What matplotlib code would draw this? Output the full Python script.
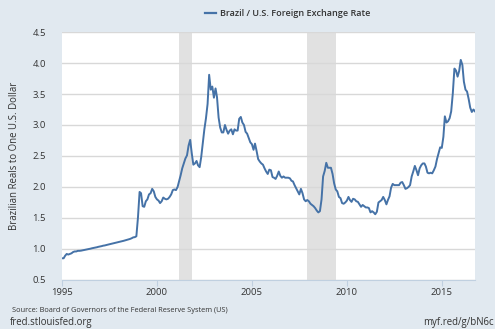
import matplotlib
matplotlib.use("Agg")
import matplotlib.pyplot as plt
import matplotlib.dates as mdates
import pandas as pd

# Brazilian reals per U.S. dollar, monthly, Jan 1995 - Oct 2016
rates_1995 = [0.85, 0.85, 0.89, 0.92, 0.91, 0.92, 0.93, 0.95, 0.96, 0.96, 0.97, 0.97]
rates_1996 = [0.973, 0.979, 0.985, 0.989, 0.994, 1.000, 1.005, 1.012, 1.017, 1.022, 1.028, 1.035]
rates_1997 = [1.040, 1.046, 1.053, 1.057, 1.064, 1.070, 1.076, 1.083, 1.088, 1.094, 1.101, 1.108]
rates_1998 = [1.113, 1.119, 1.126, 1.132, 1.139, 1.147, 1.153, 1.162, 1.173, 1.187, 1.191, 1.205]
rates_1999 = [1.51, 1.92, 1.90, 1.69, 1.68, 1.77, 1.80, 1.88, 1.90, 1.97, 1.93, 1.84]
rates_2000 = [1.80, 1.78, 1.74, 1.77, 1.83, 1.81, 1.80, 1.81, 1.84, 1.88, 1.95, 1.96]
rates_2001 = [1.95, 2.00, 2.09, 2.19, 2.30, 2.38, 2.46, 2.51, 2.67, 2.76, 2.54, 2.36]
rates_2002 = [2.38, 2.42, 2.35, 2.32, 2.48, 2.71, 2.93, 3.11, 3.34, 3.81, 3.57, 3.62]
rates_2003 = [3.44, 3.59, 3.45, 3.12, 2.96, 2.88, 2.88, 3.00, 2.92, 2.86, 2.91, 2.93]
rates_2004 = [2.85, 2.93, 2.91, 2.91, 3.10, 3.13, 3.04, 3.00, 2.89, 2.86, 2.79, 2.72]
rates_2005 = [2.69, 2.60, 2.70, 2.58, 2.45, 2.41, 2.38, 2.36, 2.30, 2.25, 2.21, 2.28]
rates_2006 = [2.27, 2.16, 2.15, 2.13, 2.18, 2.25, 2.18, 2.15, 2.17, 2.15, 2.15, 2.15]
rates_2007 = [2.14, 2.10, 2.09, 2.03, 1.98, 1.93, 1.88, 1.97, 1.90, 1.80, 1.77, 1.79]
rates_2008 = [1.77, 1.73, 1.71, 1.69, 1.66, 1.62, 1.59, 1.61, 1.80, 2.17, 2.26, 2.39]
rates_2009 = [2.31, 2.31, 2.31, 2.21, 2.06, 1.96, 1.93, 1.84, 1.82, 1.74, 1.73, 1.75]
rates_2010 = [1.78, 1.84, 1.79, 1.76, 1.81, 1.80, 1.77, 1.76, 1.72, 1.68, 1.71, 1.69]
rates_2011 = [1.67, 1.67, 1.66, 1.59, 1.61, 1.59, 1.56, 1.60, 1.75, 1.77, 1.79, 1.84]
rates_2012 = [1.79, 1.72, 1.79, 1.85, 1.99, 2.05, 2.03, 2.03, 2.03, 2.03, 2.07, 2.08]
rates_2013 = [2.03, 1.97, 1.98, 2.00, 2.03, 2.17, 2.25, 2.34, 2.27, 2.19, 2.30, 2.35]
rates_2014 = [2.38, 2.38, 2.33, 2.23, 2.22, 2.23, 2.22, 2.27, 2.33, 2.45, 2.55, 2.64]
rates_2015 = [2.63, 2.81, 3.14, 3.04, 3.06, 3.11, 3.22, 3.51, 3.91, 3.88, 3.78, 3.87]
rates_2016 = [4.05, 3.97, 3.70, 3.57, 3.54, 3.42, 3.28, 3.21, 3.25, 3.22]

rates = (rates_1995 + rates_1996 + rates_1997 + rates_1998 + rates_1999 + rates_2000
         + rates_2001 + rates_2002 + rates_2003 + rates_2004 + rates_2005 + rates_2006
         + rates_2007 + rates_2008 + rates_2009 + rates_2010 + rates_2011 + rates_2012
         + rates_2013 + rates_2014 + rates_2015 + rates_2016)
dates = pd.date_range("1995-01-01", periods=len(rates), freq="MS")

# NBER recessions
recessions = [("2001-03-01", "2001-11-01"), ("2007-12-01", "2009-06-01")]

series_name = "Brazil / U.S. Foreign Exchange Rate"
y_label = "Brazilian Reals to One U.S. Dollar"
year_ticks = [1995, 2000, 2005, 2010, 2015]
y_ticks = [0.5, 1.0, 1.5, 2.0, 2.5, 3.0, 3.5, 4.0, 4.5]

bg = "#e1e9f0"
txt = "#333333"
plt.rcParams["font.family"] = ["Open Sans", "DejaVu Sans"]

fig = plt.figure(figsize=(4.95, 3.29), dpi=100, facecolor=bg)
ax = fig.add_axes([0.1253, 0.149, 0.8343, 0.7537])
ax.set_facecolor("white")

for start, end in recessions:
    ax.axvspan(pd.Timestamp(start), pd.Timestamp(end), color="#e1e1e1", lw=0, zorder=1)

ax.plot(dates, rates, color="#4572a7", lw=1.4, zorder=3)

ax.set_xlim(dates[0], dates[-1])
ax.set_ylim(0.5, 4.5)
ax.set_yticks(y_ticks)
ax.set_yticklabels([f"{v:.1f}" for v in y_ticks])
ax.set_xticks([pd.Timestamp(f"{y}-01-01") for y in year_ticks])
ax.xaxis.set_major_formatter(mdates.DateFormatter("%Y"))

ax.grid(axis="y", color="#d8d8d8", lw=1, zorder=2)
ax.grid(axis="x", visible=False)
for side in ["left", "right", "top"]:
    ax.spines[side].set_visible(False)
ax.spines["bottom"].set_color("#c0d0e0")
ax.tick_params(axis="y", length=0, labelsize=6.8, labelcolor=txt, pad=11.5)
ax.tick_params(axis="x", length=4, color="#c0d0e0", labelsize=6.8, labelcolor=txt, pad=2)

ax.set_ylabel(y_label, fontsize=6.9, color=txt)
ax.yaxis.set_label_coords(-42 / 413, 0.5)

# legend line and label above the plot
fig.lines.append(plt.Line2D([205 / 495, 216 / 495], [1 - 13 / 329] * 2,
                            color="#4572a7", lw=1.6, transform=fig.transFigure))
fig.text(220 / 495, 1 - 13 / 329, series_name, fontsize=6.5, color=txt,
         fontweight="semibold", va="center", ha="left")

fig.text(12 / 495, 1 - 311 / 329, "Source: Board of Governors of the Federal Reserve System (US)",
         fontsize=5.3, color=txt, va="center", ha="left")
fig.text(10 / 495, 1 - 323 / 329, "fred.stlouisfed.org", fontsize=6.9, color=txt,
         va="center", ha="left")
fig.text(494 / 495, 1 - 323 / 329, "myf.red/g/bN6c", fontsize=6.9, color=txt,
         va="center", ha="right")

fig.savefig("out.png", dpi=100, facecolor=bg)
